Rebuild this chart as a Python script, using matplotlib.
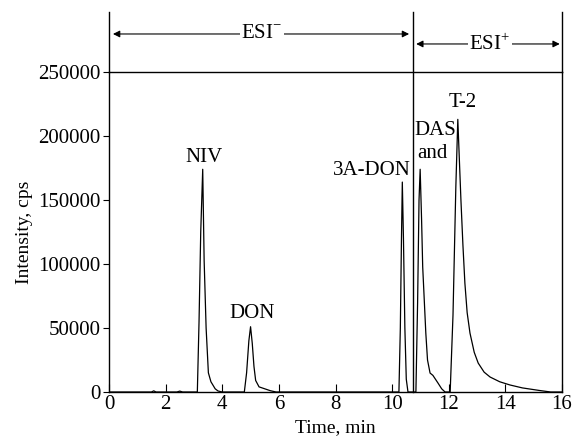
import matplotlib
matplotlib.use('Agg')
import matplotlib.pyplot as plt

plt.rcParams['font.family'] = ['Liberation Serif', 'DejaVu Serif']
plt.rcParams['mathtext.fontset'] = 'custom'
plt.rcParams['mathtext.rm'] = 'Liberation Serif'

# chromatogram trace (time in min, intensity in cps)
base1_t = [0.0, 1.5, 1.58, 1.66, 2.4, 2.5, 2.6, 3.12]
base1_i = [0, 0, 900, 0, 0, 700, 0, 0]
niv_t = [3.18, 3.24, 3.31, 3.36, 3.43, 3.51, 3.6, 3.75, 3.85, 4.0]
niv_i = [55000, 125000, 174000, 103000, 50000, 15000, 8000, 2500, 800, 0]
don_t = [4.78, 4.86, 4.94, 5.0, 5.06, 5.12, 5.18, 5.3, 5.5, 5.7, 5.9]
don_i = [0, 15000, 40000, 51000, 38000, 20000, 9000, 4000, 2500, 1000, 0]
base2_t = [7.0, 10.24]
base2_i = [0, 0]
adon_t = [10.29, 10.33, 10.36, 10.40, 10.45, 10.5, 10.56, 10.7]
adon_i = [50000, 120000, 164000, 120000, 50000, 10000, 0, 0]
das_t = [10.84, 10.9, 10.95, 10.99, 11.04, 11.08, 11.19, 11.25, 11.34, 11.44,
         11.62, 11.75, 11.87]
das_i = [0, 70000, 150000, 174000, 135000, 97700, 46000, 25000, 14800, 13000,
         7000, 2500, 0]
t2_t = [12.05, 12.15, 12.25, 12.32, 12.36, 12.43, 12.5, 12.57, 12.65, 12.75,
        12.9, 13.04, 13.25, 13.46, 13.8, 14.16, 14.6, 15.2, 15.6, 16.0]
t2_i = [0, 60000, 160000, 213000, 190000, 150000, 115000, 85000, 62000, 46000,
        31000, 22600, 15500, 11700, 8000, 5500, 3200, 1200, 0, 0]

time = base1_t + niv_t + don_t + base2_t + adon_t + das_t + t2_t
inten = base1_i + niv_i + don_i + base2_i + adon_i + das_i + t2_i

peak_labels = ['NIV', 'DON', '3A-DON', 'T-2']
peak_x = [3.37, 5.07, 9.3, 12.5]
peak_y = [183000, 61000, 173000, 226000]

switch_t = 10.73
y_top = 296875

fig = plt.figure(figsize=(5.76, 4.48), dpi=100)
ax = fig.add_axes([109 / 576, 56 / 448, 453 / 576, 320 / 448])

ax.plot(time, inten, color='black', linewidth=0.9)

ax.set_xlim(0, 16)
ax.set_ylim(0, 250000)
ax.set_xticks(range(0, 17, 2))
ax.set_yticks(range(0, 250001, 50000))
ax.tick_params(axis='x', direction='in', length=6, width=0.8, labelsize=15, pad=2)
ax.tick_params(axis='y', direction='out', length=4, width=0.8, labelsize=15, pad=2)
for s in ax.spines.values():
    s.set_linewidth(1.0)

ax.set_xlabel('Time, min', fontsize=14, labelpad=4)
ax.set_ylabel('Intensity, cps', fontsize=14, labelpad=4)

# frame above the plot and polarity switch
for xv in [0, 16]:
    ax.plot([xv, xv], [250000, y_top], color='black', lw=1.0, clip_on=False)
ax.plot([switch_t, switch_t], [0, y_top], color='black', lw=1.0, clip_on=False)

arr = dict(arrowstyle='<|-|>', color='black', lw=0.8, mutation_scale=10,
           shrinkA=0, shrinkB=0)
ax.annotate('', xy=(0.14, 279700), xytext=(10.6, 279700), arrowprops=arr,
            annotation_clip=False)
ax.text(5.4, 279700, 'ESI$^{-}$', ha='center', va='center', fontsize=15,
        bbox=dict(facecolor='white', edgecolor='none', pad=1))
ax.annotate('', xy=(10.85, 271900), xytext=(15.92, 271900), arrowprops=arr,
            annotation_clip=False)
ax.text(13.45, 271900, 'ESI$^{+}$', ha='center', va='center', fontsize=15,
        bbox=dict(facecolor='white', edgecolor='none', pad=1))

for lab, x, y in zip(peak_labels, peak_x, peak_y):
    ax.text(x, y, lab, ha='center', va='center', fontsize=15)
ax.text(11.51, 204000, 'DAS', ha='center', va='center', fontsize=15)
ax.text(11.44, 186000, 'and', ha='center', va='center', fontsize=15)

fig.savefig('out.png', dpi=100)
